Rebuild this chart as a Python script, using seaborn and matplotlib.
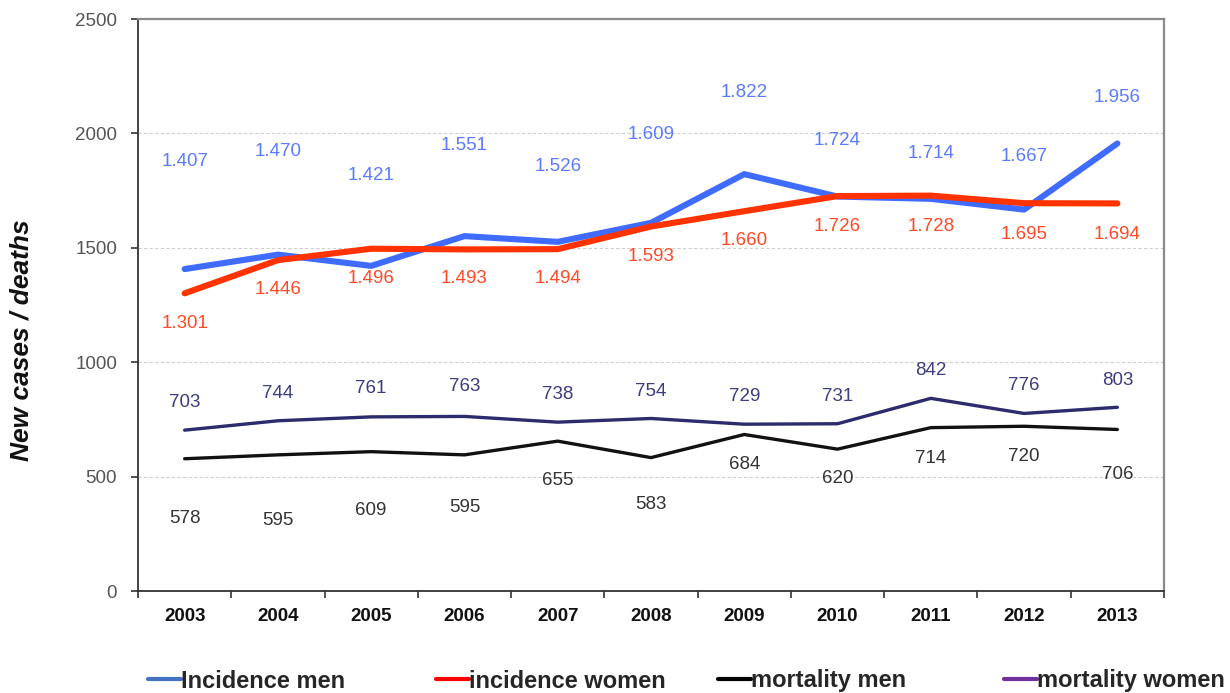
import numpy as np
import pandas as pd
import matplotlib
matplotlib.use("Agg")
import matplotlib.pyplot as plt
from matplotlib.lines import Line2D
from matplotlib.ticker import FixedLocator
import seaborn as sns

# ---- data -------------------------------------------------------------
years = [2003, 2004, 2005, 2006, 2007, 2008, 2009, 2010, 2011, 2012, 2013]
incidence_men = [1407, 1470, 1421, 1551, 1526, 1609, 1822, 1724, 1714, 1667, 1956]
incidence_women = [1301, 1446, 1496, 1493, 1494, 1593, 1660, 1726, 1728, 1695, 1694]
mortality_men = [578, 595, 609, 595, 655, 583, 684, 620, 714, 720, 706]
mortality_women = [703, 744, 761, 763, 738, 754, 729, 731, 842, 776, 803]
y_ticks = [0, 500, 1000, 1500, 2000, 2500]

# vertical placement of the value labels (data units)
label_y_inc_men = [1875, 1919, 1818, 1949, 1857, 1997, 2177, 1971, 1914, 1901, 2159]
label_y_inc_women = [1171, 1316, 1364, 1364, 1364, 1464, 1530, 1595, 1595, 1560, 1560]
label_y_mort_women = [822, 865, 883, 892, 857, 874, 848, 852, 962, 896, 922]
label_y_mort_men = [315, 306, 350, 367, 481, 380, 551, 490, 581, 586, 507]

# ---- styling ----------------------------------------------------------
sns.set_theme(style="white")
plt.rcParams["font.family"] = ["Liberation Sans", "DejaVu Sans"]

C_INC_MEN = "#3f6bff"
C_INC_WOMEN = "#ff3300"
C_MORT_MEN = "#111111"
C_MORT_WOMEN = "#2b2b6e"

pos = np.arange(len(years))
df = pd.DataFrame({
    "pos": np.tile(pos, 4),
    "value": incidence_men + incidence_women + mortality_men + mortality_women,
    "series": (["Incidence men"] * len(years) + ["incidence women"] * len(years)
               + ["mortality men"] * len(years) + ["mortality women"] * len(years)),
})

fig = plt.figure(figsize=(12.3, 6.93), dpi=100)
ax = fig.add_axes([138 / 1230, 1 - 591 / 693, (1164 - 138) / 1230, (591 - 19) / 693])

ax.yaxis.grid(True, color="#cfcfcf", linestyle=(0, (3, 2)), linewidth=0.8)
ax.set_axisbelow(True)

styles = [
    ("mortality men", C_MORT_MEN, 2.4),
    ("mortality women", C_MORT_WOMEN, 2.4),
    ("Incidence men", C_INC_MEN, 4.4),
    ("incidence women", C_INC_WOMEN, 4.4),
]
for name, col, lw in styles:
    sns.lineplot(data=df[df["series"] == name], x="pos", y="value", ax=ax,
                 color=col, linewidth=lw, legend=False,
                 solid_capstyle="round", solid_joinstyle="round")

# value labels
def thousands(v):
    return f"{v:,}".replace(",", ".")

label_sets = [
    (incidence_men, label_y_inc_men, "#5a7bff", thousands),
    (incidence_women, label_y_inc_women, "#ff4a26", thousands),
    (mortality_women, label_y_mort_women, "#3c3c80", str),
    (mortality_men, label_y_mort_men, "#333333", str),
]
for vals, ys, col, fmt in label_sets:
    for x, v, y in zip(pos, vals, ys):
        ax.text(x, y, fmt(v), color=col, fontsize=13.5, ha="center", va="center")

# axes
ax.set_xlim(-0.5, len(years) - 0.5)
ax.set_ylim(0, 2500)
ax.set_yticks(y_ticks)
ax.set_yticklabels([str(t) for t in y_ticks], color="#555555", fontsize=13.5)
ax.set_xticks(pos)
ax.set_xticklabels([str(y) for y in years], fontsize=13.5, fontweight="bold",
                   color="#111111")
ax.xaxis.set_minor_locator(FixedLocator(np.arange(-0.5, len(years), 1.0)))
ax.tick_params(axis="x", which="major", length=0, pad=12)
ax.tick_params(axis="x", which="minor", length=5, width=1.2, color="#333333",
               direction="out", bottom=True)
ax.tick_params(axis="y", which="major", length=5, width=1.2, color="#333333",
               direction="out", left=True, pad=10)
ax.set_xlabel("")
ax.set_ylabel("")

for side in ["left", "bottom"]:
    ax.spines[side].set_color("#333333")
    ax.spines[side].set_linewidth(1.3)
for side in ["top", "right"]:
    ax.spines[side].set_color("#8a8a8a")
    ax.spines[side].set_linewidth(1.6)

fig.text(22 / 1230, 1 - 340 / 693, "New cases / deaths", rotation=90,
         fontsize=19, fontweight="bold", fontstyle="italic",
         ha="center", va="center", color="#111111")

# legend, one entry per slot along the bottom
legend_entries = [
    ("Incidence men", "#4472c4", 148),
    ("incidence women", "#ff0000", 436),
    ("mortality men", "#000000", 718),
    ("mortality women", "#7030a0", 1004),
]
for label, col, x0 in legend_entries:
    h = Line2D([0], [0], color=col, linewidth=3)
    fig.legend(handles=[h], labels=[label], loc="center left",
               bbox_to_anchor=(x0 / 1230, 1 - 681 / 693), frameon=False,
               handlelength=1.4, handletextpad=0.0, borderpad=0,
               borderaxespad=0, prop={"size": 17, "weight": "bold"})

fig.savefig("out.png", dpi=100)
